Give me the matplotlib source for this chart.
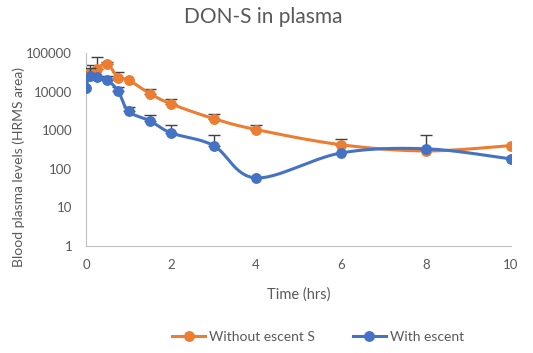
import numpy as np
import matplotlib
matplotlib.use("Agg")
import matplotlib.pyplot as plt
from matplotlib.lines import Line2D

plt.rcParams['font.family'] = ['Lato', 'DejaVu Sans']

title = "DON-S in plasma"
series_names = ["Without escent S", "With escent"]

t_orange = [0.083, 0.25, 0.5, 0.75, 1, 1.5, 2, 3, 4, 6, 8, 10]
v_orange = [30000, 39000, 53000, 23000, 20000, 8900, 4800, 2000, 1040, 420, 290, 400]
e_orange = [19000, 38000, 6000, 10000, 0, 2600, 1500, 600, 300, 160, 0, 0]

t_blue = [0, 0.083, 0.25, 0.5, 0.75, 1, 1.5, 2, 3, 4, 6, 8, 10]
v_blue = [12600, 26000, 24400, 19600, 10600, 3100, 1760, 850, 400, 58, 257, 330, 180]
e_blue = [0, 14000, 0, 6400, 2800, 900, 750, 530, 340, 0, 0, 410, 0]

x_ticks = [0, 2, 4, 6, 8, 10]
y_ticks = [1, 10, 100, 1000, 10000, 100000]

ORANGE = "#ED7D31"
BLUE = "#4472C4"
TXT = "#595959"


def smooth(xs, ys, n=30):
    # Catmull-Rom (Excel-like smoothing) in approx display space (x, log y)
    xs = np.asarray(xs, float)
    ly = np.log10(np.asarray(ys, float))
    sx, sy = 42.5, 38.6
    P = np.column_stack([xs * sx, ly * sy])
    out = []
    for i in range(len(P) - 1):
        p0 = P[i - 1] if i > 0 else P[i]
        p1 = P[i]
        p2 = P[i + 1]
        p3 = P[i + 2] if i + 2 < len(P) else P[i + 1]
        c1 = p1 + (p2 - p0) / 6.0
        c2 = p2 - (p3 - p1) / 6.0
        tt = np.linspace(0, 1, n, endpoint=(i == len(P) - 2))
        for t in tt:
            b = ((1 - t) ** 3) * p1 + 3 * ((1 - t) ** 2) * t * c1 + 3 * (1 - t) * t ** 2 * c2 + t ** 3 * p2
            out.append(b)
    out = np.array(out)
    return out[:, 0] / sx, 10 ** (out[:, 1] / sy)


fig = plt.figure(figsize=(5.33, 3.53), dpi=100)
ax = fig.add_axes([0.1614, 0.3031, 0.7973, 0.5468])
ax.set_yscale('log')
ax.set_xlim(0, 10)
ax.set_ylim(1, 100000)

for ts, vs, es, col, z in [(t_orange, v_orange, e_orange, ORANGE, 3), (t_blue, v_blue, e_blue, BLUE, 5)]:
    ex = [t for t, e in zip(ts, es) if e > 0]
    ey = [v for v, e in zip(vs, es) if e > 0]
    ee = [e for e in es if e > 0]
    ax.errorbar(ex, ey, yerr=[np.zeros(len(ee)), ee], fmt='none', ecolor='#404040',
                elinewidth=1.0, capsize=4, capthick=1.0, zorder=z - 1)
    sx_, sy_ = smooth(ts, vs)
    ax.plot(sx_, sy_, color=col, lw=2.2, zorder=z, solid_capstyle='round')
    ax.plot(ts, vs, 'o', color=col, ms=6.8, zorder=z + 0.5)

ax.set_xticks(x_ticks)
ax.set_xticklabels([str(x) for x in x_ticks])
ax.set_yticks(y_ticks)
ax.set_yticklabels([str(y) for y in y_ticks])
ax.yaxis.set_minor_locator(matplotlib.ticker.NullLocator())
ax.tick_params(axis='both', length=0, labelsize=9.5, labelcolor=TXT)
ax.tick_params(axis='y', pad=10)
ax.tick_params(axis='x', pad=9)
for s in ['top', 'right']:
    ax.spines[s].set_visible(False)
ax.spines['left'].set_color('#bfbfbf')
ax.spines['bottom'].set_color('#bfbfbf')
ax.spines['left'].set_linewidth(0.8)
ax.spines['bottom'].set_linewidth(0.8)

ax.set_xlabel("Time (hrs)", fontsize=10.5, color=TXT)
ax.xaxis.set_label_coords(0.5, -0.215)
ax.set_ylabel("Blood plasma levels (HRMS area)", fontsize=10, color=TXT, va='center')
ax.yaxis.set_label_coords(-0.158, 0.41)
fig.text(0.494, 0.952, title, ha='center', va='center', fontsize=15, color=TXT)

handles = [Line2D([0], [0], color=ORANGE, lw=2.2, marker='o', ms=6.8),
           Line2D([0], [0], color=BLUE, lw=2.2, marker='o', ms=6.8)]
fig.legend(handles, series_names, loc='center', bbox_to_anchor=(0.597, 0.045), ncol=2,
           frameon=False, fontsize=10, labelcolor=TXT, columnspacing=2.7, handlelength=2.4,
           handletextpad=0.3)

fig.savefig("out.png", dpi=100)
